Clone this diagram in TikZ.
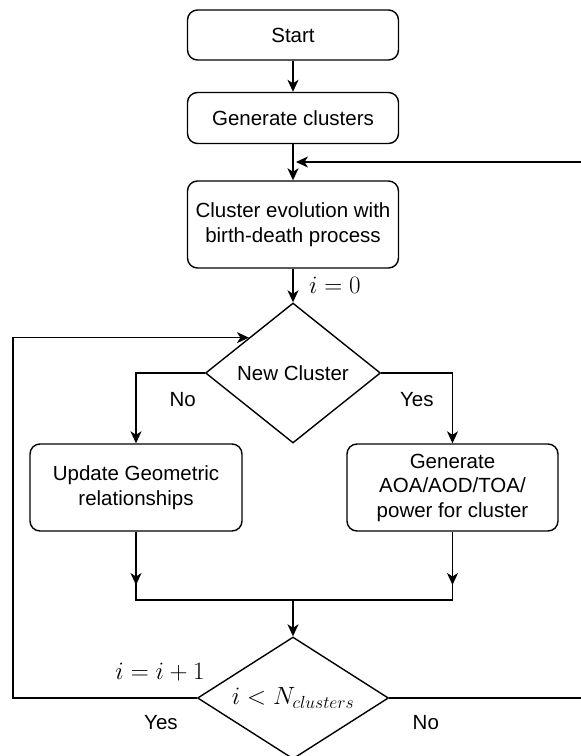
\RequirePackage{fix-cm}
\documentclass[tikz,border=0pt]{standalone}
\usepackage{fontspec}
\setmainfont{Liberation Sans}
\usetikzlibrary{shapes.geometric,arrows.meta}
\begin{document}
\begin{tikzpicture}[x=1pt,y=-1pt,line width=1.4pt,
  box/.style={draw,rounded corners=10pt,align=center,font=\fontsize{20.5}{24.5}\selectfont,inner sep=2pt},
  dec/.style={draw,diamond,inner sep=0pt,font=\fontsize{20.5}{24.5}\selectfont},
  arr/.style={-{Stealth[length=12pt,width=11pt,inset=3.5pt]}},
  lbl/.style={font=\fontsize{20.5}{24.5}\selectfont},
  mth/.style={font=\fontsize{25}{30}\selectfont}]
\useasboundingbox (0,0) rectangle (581,756);
\node[box,minimum width=211pt,minimum height=50pt] (start) at (293,35) {Start};
\node[box,minimum width=211pt,minimum height=51pt] (gen) at (293,118) {Generate clusters};
\node[box,minimum width=211pt,minimum height=87pt] (evol) at (293,224.5) {Cluster evolution with\\birth-death process};
\node[dec,aspect=1.25,minimum width=175pt,minimum height=140pt] (newc) at (293,373) {New Cluster};
\node[box,minimum width=212pt,minimum height=87pt] (upd) at (136,487.5) {Update Geometric\\relationships};
\node[box,minimum width=211pt,minimum height=87pt] (aoa) at (452.5,487.5) {Generate\\AOA/AOD/TOA/\\power for cluster};
\node[dec,mth,aspect=1.57,minimum width=191pt,minimum height=122pt] (cond) at (293,698) {$i<N_{clusters}$};
\coordinate (mrg) at (296,162);
\coordinate (j) at (293,600);
\coordinate (fl) at (13,698);
\coordinate (fr) at (582,698);
\draw[arr] (start) -- (gen);
\draw[arr] (gen) -- (evol);
\draw[arr] (evol) -- node[right=12pt,mth] {$i=0$} (newc);
\draw[arr] (newc.west) -| node[pos=0.16,below=15pt,lbl] {No} (upd.north);
\draw[arr] (newc.east) -| node[pos=0.25,below=15pt,lbl] {Yes} (aoa.north);
\draw (upd.south) |- (j) -| (aoa.south);
\foreach \n in {upd,aoa} {
  \draw[arr] (\n.south) -- ([yshift=15pt]\n.south |- j);
}
\draw[arr] (j) -- (cond.north);
\draw[arr] (cond.west) -- node[pos=0.2,above=13pt,mth] {$i=i+1$} node[pos=0.195,below=13pt,lbl] {Yes} (fl) |- (newc.north west);
\draw[arr] (cond.east) -- node[pos=0.19,below=13pt,lbl] {No} (fr) |- (mrg);
\end{tikzpicture}
\end{document}
